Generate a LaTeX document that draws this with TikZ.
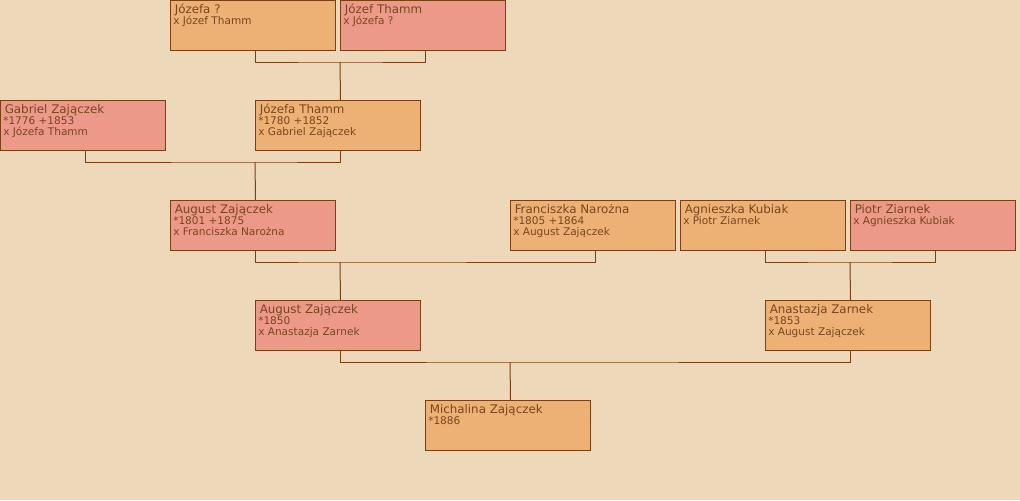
\documentclass[tikz,border=0pt]{standalone}
\usepackage{fontspec}
\setmainfont{DejaVu Sans}
\definecolor{bgc}{RGB}{238,216,186}
\definecolor{orc}{RGB}{237,177,117}
\definecolor{pkc}{RGB}{237,153,138}
\definecolor{lnc}{RGB}{122,64,20}
\definecolor{txc}{RGB}{120,70,30}
\tikzset{
  box/.style={draw=lnc, line width=0.75pt, anchor=north west, minimum width=123.75pt, minimum height=37.5pt, inner sep=0pt},
  orbox/.style={box, fill=orc},
  pkbox/.style={box, fill=pkc},
  nm/.style={anchor=base west, inner sep=0pt, text=txc, font=\fontsize{8.9}{10}\selectfont},
  dt/.style={anchor=base west, inner sep=0pt, text=txc, font=\fontsize{7.9}{9}\selectfont},
  conn/.style={draw=lnc, line width=0.75pt},
}
\newcommand{\pers}[6]{%
  \node[#1] (#2) at (#3) {};
  \node[nm] (#2n) at ([shift={(4.5,13.7)}]#2.north west) {#4};
  \node[dt] (#2a) at ([shift={(3,24.5)}]#2.north west) {#5};
  \node[dt] (#2b) at ([shift={(3,35.5)}]#2.north west) {#6};
}
\begin{document}
\begin{tikzpicture}[x=0.75pt,y=-0.75pt]
\fill[bgc] (0,0) rectangle (1020,500);
\useasboundingbox (0,0) rectangle (1020,500);
% people
\node[orbox] (jq) at (170,0) {};
\node[nm] (jqn) at ([shift={(4.5,13.7)}]jq.north west) {Józefa ?};
\node[dt] (jqa) at ([shift={(3,24.5)}]jq.north west) {x Józef Thamm};
\node[pkbox] (jt) at (340,0) {};
\node[nm] (jtn) at ([shift={(4.5,13.7)}]jt.north west) {Józef Thamm};
\node[dt] (jta) at ([shift={(3,24.5)}]jt.north west) {x Józefa ?};
\pers{pkbox}{gz}{0,100}{Gabriel Zajączek}{*1776 +1853}{x Józefa Thamm}
\pers{orbox}{jth}{255,100}{Józefa Thamm}{*1780 +1852}{x Gabriel Zajączek}
\pers{pkbox}{az}{170,200}{August Zajączek}{*1801 +1875}{x Franciszka Narożna}
\pers{orbox}{fn}{510,200}{Franciszka Narożna}{*1805 +1864}{x August Zajączek}
\node[orbox] (ak) at (680,200) {};
\node[nm] (akn) at ([shift={(4.5,13.7)}]ak.north west) {Agnieszka Kubiak};
\node[dt] (aka) at ([shift={(3,24.5)}]ak.north west) {x Piotr Ziarnek};
\node[pkbox] (pz) at (850,200) {};
\node[nm] (pzn) at ([shift={(4.5,13.7)}]pz.north west) {Piotr Ziarnek};
\node[dt] (pza) at ([shift={(3,24.5)}]pz.north west) {x Agnieszka Kubiak};
\pers{pkbox}{az2}{255,300}{August Zajączek}{*1850}{x Anastazja Zarnek}
\pers{orbox}{anz}{765,300}{Anastazja Zarnek}{*1853}{x August Zajączek}
\node[orbox] (mz) at (425,400) {};
\node[nm] (mzn) at ([shift={(4.5,13.7)}]mz.north west) {Michalina Zajączek};
\node[dt] (mza) at ([shift={(3,24.5)}]mz.north west) {*1886};
% connectors
\coordinate (b1) at (340,62);
\coordinate (b2) at (255,162);
\coordinate (b3) at (340,262);
\coordinate (b4) at (850,262);
\coordinate (b5) at (510,362);
\draw[conn] ([shift={(2.5,0)}]jq.south) |- (b1) -| ([shift={(2.5,0)}]jt.south);
\draw[conn] (b1) -- ([shift={(2.5,0)}]jth.north);
\draw[conn] ([shift={(2.5,0)}]gz.south) |- (b2) -| ([shift={(2.5,0)}]jth.south);
\draw[conn] (b2) -- ([shift={(2.5,0)}]az.north);
\draw[conn] ([shift={(2.5,0)}]az.south) |- (b3) -| ([shift={(2.5,0)}]fn.south);
\draw[conn] (b3) -- ([shift={(2.5,0)}]az2.north);
\draw[conn] ([shift={(2.5,0)}]ak.south) |- (b4) -| ([shift={(2.5,0)}]pz.south);
\draw[conn] (b4) -- ([shift={(2.5,0)}]anz.north);
\draw[conn] ([shift={(2.5,0)}]az2.south) |- (b5) -| ([shift={(2.5,0)}]anz.south);
\draw[conn] (b5) -- ([shift={(2.5,0)}]mz.north);
\end{tikzpicture}
\end{document}
